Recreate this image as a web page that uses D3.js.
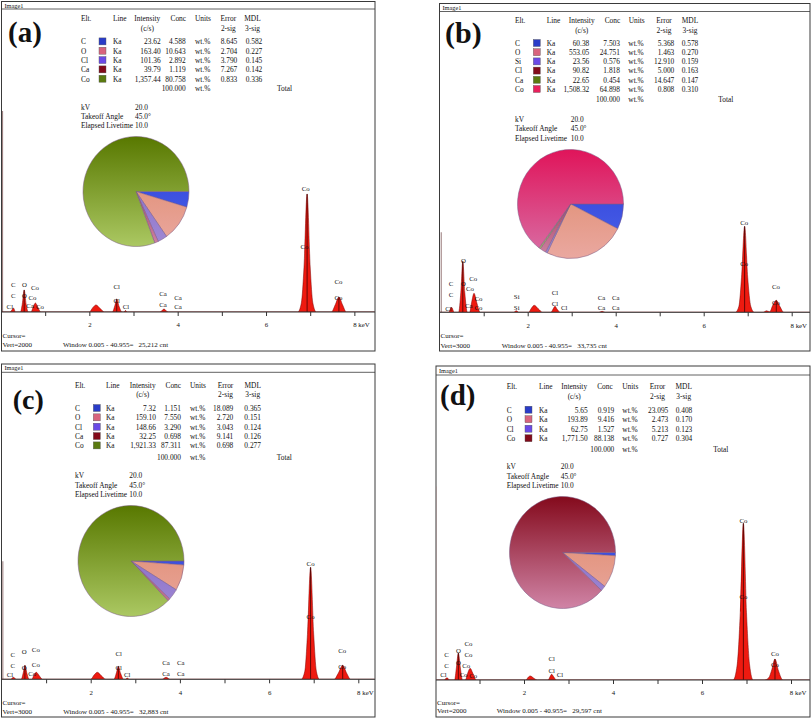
<!DOCTYPE html>
<html><head><meta charset="utf-8">
<script src="https://cdn.jsdelivr.net/npm/d3@7/dist/d3.min.js"></script>
<style>
body{margin:0;background:#fff;}
svg text{font-family:"Liberation Serif","Times New Roman",serif;fill:#111;}
</style></head><body>
<script>
// ---------------- DATA ----------------
const lineName = "Ka";
const totalConc = "100.000";
const infoLabels = ["kV", "Takeoff Angle", "Elapsed Livetime"];
const infoValues = ["20.0", "45.0\u00b0", "10.0"];
const keVTicks = [1, 2, 3, 4, 5, 6, 7, 8];
const keVTickLabels = ["", "2", "", "4", "", "6", "", "8"];
const axisUnit = "keV";
const windowText = "Window 0.005 - 40.955=";

// Panel (a)
const elementsA = ["C", "O", "Cl", "Ca", "Co"];
const intensityA = ["23.62", "163.40", "101.36", "39.79", "1,357.44"];
const concA = [4.588, 10.643, 2.892, 1.119, 80.758];
const errorA = ["8.645", "2.704", "3.790", "7.267", "0.833"];
const mdlA = ["0.582", "0.227", "0.145", "0.142", "0.336"];
const vertA = 2000;
const cntA = "25,212";
const zeroA = [0.035, 1340];
const spectrumA = [[0,0],[0.20,0],[0.25,15],[0.28,27],[0.33,0],
 [0.44,0],[0.48,50],[0.525,147],[0.57,50],[0.62,0],
 [0.68,0],[0.73,35],[0.78,60],[0.83,35],[0.90,0],
 [2.00,0],[2.08,30],[2.15,47],[2.24,25],[2.34,0],
 [2.52,0],[2.58,45],[2.62,87],[2.67,40],[2.74,0],[2.78,0],[2.82,10],[2.86,0],
 [3.60,0],[3.69,20],[3.78,0],
 [6.72,0],[6.80,60],[6.86,300],[6.93,787],[7.00,300],[7.06,60],[7.14,0],
 [7.48,0],[7.57,50],[7.65,100],[7.73,50],[7.82,0],[8.5,0]];
const labelsA = [["Cl",0.20,33],["C",0.28,180],["C",0.28,107],["O",0.53,180],["O",0.53,107],
 ["Co",0.77,160],["Co",0.71,93],["Ca",0.66,40],["Co",0.88,33],
 ["Cl",2.62,167],["Cl",2.62,73],["Cl",2.83,33],
 ["Ca",3.67,120],["Ca",3.67,47],["Ca",4.01,93],["Ca",4.01,33],
 ["Co",6.90,820],["Co",6.87,433],["Co",7.64,200],["Co",7.64,93]];
const markersA = [0.525, 2.62, 6.93, 7.65];

// Panel (b)
const elementsB = ["C", "O", "Si", "Cl", "Ca", "Co"];
const intensityB = ["60.38", "553.05", "23.56", "90.82", "22.65", "1,508.32"];
const concB = [7.503, 24.751, 0.576, 1.818, 0.454, 64.898];
const errorB = ["5.368", "1.463", "12.910", "5.000", "14.647", "0.808"];
const mdlB = ["0.578", "0.270", "0.159", "0.163", "0.147", "0.310"];
const vertB = 3000;
const cntB = "33,735";
const zeroB = [0.035, 800];
const spectrumB = [[0,0],[0.20,0],[0.27,50],[0.33,0],
 [0.43,0],[0.48,200],[0.525,510],[0.57,200],[0.63,0],
 [0.68,0],[0.73,110],[0.78,190],[0.84,100],[0.92,0],
 [1.68,0],[1.74,15],[1.80,0],
 [2.02,0],[2.09,45],[2.15,70],[2.24,35],[2.34,0],
 [2.53,0],[2.58,35],[2.62,60],[2.67,30],[2.74,0],
 [3.62,0],[3.69,10],[3.76,0],
 [6.72,0],[6.80,60],[6.86,350],[6.93,860],[7.00,350],[7.07,60],[7.15,0],
 [7.35,0],[7.43,15],[7.50,5],[7.57,70],[7.65,120],[7.73,60],[7.82,0],[8.5,0]];
const labelsB = [["Cl",0.20,40],["C",0.26,290],["C",0.26,180],["O",0.54,520],["O",0.54,290],
 ["Co",0.76,340],["Co",0.69,240],["Co",0.88,140],["Ca",0.66,65],["Co",0.88,50],
 ["Si",1.75,160],["Si",1.75,50],["Cl",2.62,200],["Cl",2.62,90],["Cl",2.83,50],
 ["Ca",3.68,150],["Ca",3.68,50],["Ca",4.00,150],["Ca",4.00,50],
 ["Co",6.92,900],["Co",6.92,490],["Co",7.64,260],["Co",7.64,100]];
const markersB = [0.525, 6.93, 7.65];

// Panel (c)
const elementsC = ["C", "O", "Cl", "Ca", "Co"];
const intensityC = ["7.32", "159.10", "148.66", "32.25", "1,921.33"];
const concC = [1.151, 7.550, 3.290, 0.698, 87.311];
const errorC = ["18.089", "2.720", "3.043", "9.141", "0.698"];
const mdlC = ["0.365", "0.151", "0.124", "0.126", "0.277"];
const vertC = 3000;
const cntC = "32,883";
const zeroC = [0.03, 1180];
const spectrumC = [[0,0],[0.20,0],[0.27,20],[0.33,0],
 [0.44,0],[0.49,70],[0.525,140],[0.57,60],[0.62,0],
 [0.68,0],[0.73,45],[0.78,70],[0.84,40],[0.92,0],
 [2.00,0],[2.08,45],[2.15,70],[2.24,35],[2.34,0],
 [2.52,0],[2.58,70],[2.62,130],[2.67,60],[2.74,0],[2.78,0],[2.82,12],[2.86,0],
 [3.60,0],[3.69,20],[3.78,0],
 [6.72,0],[6.80,80],[6.86,450],[6.93,1120],[7.00,450],[7.06,80],[7.13,0],
 [7.46,0],[7.55,60],[7.65,140],[7.74,60],[7.83,0],[8.5,0]];
const labelsC = [["Cl",0.19,50],["C",0.25,250],["C",0.25,140],["O",0.51,280],["O",0.51,120],
 ["Co",0.77,300],["Co",0.77,150],["Co",0.69,60],
 ["Cl",2.63,260],["Cl",2.63,120],["Cl",2.82,50],
 ["Ca",3.69,170],["Ca",3.69,60],["Ca",4.02,170],["Ca",4.02,60],
 ["Co",6.93,1160],["Co",6.93,630],["Co",7.64,290],["Co",7.64,130]];
const markersC = [0.525, 2.62, 6.93, 7.65];

// Panel (d)
const elementsD = ["C", "O", "Cl", "Co"];
const intensityD = ["5.65", "193.89", "62.75", "1,771.50"];
const concD = [0.919, 9.416, 1.527, 88.138];
const errorD = ["23.095", "2.473", "5.213", "0.727"];
const mdlD = ["0.408", "0.170", "0.123", "0.304"];
const vertD = 2000;
const cntD = "29,597";
const zeroD = [0.03, 1290];
const spectrumD = [[0,0],[0.20,0],[0.27,15],[0.33,0],
 [0.44,0],[0.48,80],[0.525,180],[0.57,80],[0.62,0],
 [0.68,0],[0.74,50],[0.79,78],[0.85,45],[0.93,0],
 [2.04,0],[2.10,20],[2.14,27],[2.22,12],[2.30,0],
 [2.54,0],[2.59,25],[2.62,38],[2.67,20],[2.73,0],
 [6.70,0],[6.79,100],[6.86,450],[6.93,1045],[7.00,450],[7.07,100],[7.15,0],
 [7.40,0],[7.50,15],[7.56,60],[7.64,140],[7.72,60],[7.82,0],[8.5,0]];
const labelsD = [["Cl",0.19,33],["C",0.26,167],["C",0.26,95],["O",0.525,196],["O",0.525,116],
 ["Co",0.75,240],["Co",0.75,167],["Co",0.70,95],["Co",0.64,33],["Co",0.86,29],
 ["Cl",2.62,145],["Cl",2.62,60],["Cl",2.81,33],
 ["Co",6.93,1062],["Co",6.93,555],["Co",7.64,173],["Co",7.64,100]];
const markersD = [0.525, 6.93, 7.64];

// ---------------- STYLE / LAYOUT ----------------
const swatchColors = ["#2a3cc8", "#d8647e", "#6a4ae6", "#820a1a", "#5a7a10", "#e8205c"];
const pieTop = ["#2c3cd6", "#dc8462", "#7c5cc4", "#840a1c", "#587800", "#e0145a"];
const pieBot = ["#4c64ea", "#eaa8a0", "#a08ad4", "#d084a6", "#abc862", "#d870a6"];
const colorIdxA = [0, 1, 2, 3, 4];
const colorIdxB = [0, 1, 2, 3, 4, 5];
const colorIdxC = [0, 1, 2, 3, 4];
const colorIdxD = [0, 1, 2, 3];

const layoutA = {L:1.5,T:1.5,R:375,B:351,titleLine:9,imgY:7.5,
 tag:{x:8,y:41.5,size:29},
 hdrY:21,hdr2Y:31,rowY0:44.2,rowDy:9.33,totalY:90.8,
 colElt:81,colSw:99,colLine:113,colInt:160.7,colConc:185.7,colUnits:195,colErr:237.3,colMdl:262.3,colTotal:277,
 hInt:147.3,hConc:178.3,hUnits:203,hErr:228.3,hMdl:252.5,
 infoY0:109.5,infoDy:9.3,infoVal:135,
 pie:{cx:136,cy:191.5,rx:53,ry:55},
 axisY:312,x0:1.0,pxPerKeV:44.17,cursorY:337.5,vertY:347,windowX:63};
const layoutB = {L:439.5,T:3.5,R:810,B:351,titleLine:11.5,imgY:9.5,
 tag:{x:445,y:42.5,size:30},
 hdrY:22.5,hdr2Y:32.8,rowY0:45.8,rowDy:9.2,totalY:102.3,
 colElt:515,colSw:533.3,colLine:546.7,colInt:589.3,colConc:620,colUnits:628.3,colErr:674.3,colMdl:698.3,colTotal:718.3,
 hInt:581.7,hConc:612.5,hUnits:636.7,hErr:664,hMdl:690,
 infoY0:122,infoDy:9.4,infoVal:570.7,
 pie:{cx:570.5,cy:204,rx:53,ry:54.5},
 axisY:312.3,x0:439.7,pxPerKeV:44.0,cursorY:337.5,vertY:347.5,windowX:501.7};
const layoutC = {L:1.5,T:364,R:375,B:717,titleLine:372.3,imgY:370,
 tag:{x:12.7,y:409.3,size:28},
 hdrY:387.5,hdr2Y:396.5,rowY0:410.8,rowDy:9.35,totalY:459.8,
 colElt:75,colSw:93.3,colLine:106,colInt:156,colConc:181,colUnits:190,colErr:233.3,colMdl:261,colTotal:276.7,
 hInt:142.7,hConc:173.3,hUnits:198,hErr:225.5,hMdl:252.7,
 infoY0:478.2,infoDy:9.6,infoVal:129.3,
 pie:{cx:131,cy:561,rx:53,ry:55.5},
 axisY:679.3,x0:1.5,pxPerKeV:44.6,cursorY:705.2,vertY:714.2,windowX:63.3};
const layoutD = {L:436,T:366,R:810,B:717,titleLine:375,imgY:372.5,
 tag:{x:440,y:405,size:29},
 hdrY:389.2,hdr2Y:398.5,rowY0:412.5,rowDy:9.5,totalY:451.5,
 colElt:506.7,colSw:525,colLine:539,colInt:587.7,colConc:614.3,colUnits:622.3,colErr:668.3,colMdl:692.3,colTotal:713.3,
 hInt:574.2,hConc:605,hUnits:630.3,hErr:657.5,hMdl:683.7,
 infoY0:469.2,infoDy:9.6,infoVal:560.7,
 pie:{cx:562.5,cy:552.5,rx:53,ry:56},
 axisY:680,x0:435,pxPerKeV:44.5,cursorY:705.2,vertY:713.2,windowX:496.7};

const panels = [
 {id:"a",tag:"(a)",elements:elementsA,intensity:intensityA,conc:concA,error:errorA,mdl:mdlA,colors:colorIdxA,spectrum:spectrumA,labels:labelsA,zero:zeroA,markers:markersA,vert:vertA,cnt:cntA,lay:layoutA},
 {id:"b",tag:"(b)",elements:elementsB,intensity:intensityB,conc:concB,error:errorB,mdl:mdlB,colors:colorIdxB,spectrum:spectrumB,labels:labelsB,zero:zeroB,markers:markersB,vert:vertB,cnt:cntB,lay:layoutB},
 {id:"c",tag:"(c)",elements:elementsC,intensity:intensityC,conc:concC,error:errorC,mdl:mdlC,colors:colorIdxC,spectrum:spectrumC,labels:labelsC,zero:zeroC,markers:markersC,vert:vertC,cnt:cntC,lay:layoutC},
 {id:"d",tag:"(d)",elements:elementsD,intensity:intensityD,conc:concD,error:errorD,mdl:mdlD,colors:colorIdxD,spectrum:spectrumD,labels:labelsD,zero:zeroD,markers:markersD,vert:vertD,cnt:cntD,lay:layoutD}
];

// ---------------- DRAW ----------------
const svg = d3.select("body").append("svg").attr("width", 811).attr("height", 719);
svg.append("rect").attr("width", 811).attr("height", 719).attr("fill", "#fff");
const defs = svg.append("defs");
const FS = 7.4;

panels.forEach(drawPanel);

function drawPanel(p) {
  const Ly = p.lay;
  const g = svg.append("g");
  g.append("rect").attr("x", Ly.L).attr("y", Ly.T).attr("width", Ly.R - Ly.L).attr("height", Ly.B - Ly.T)
    .attr("fill", "#fff").attr("stroke", "#3a3a3a").attr("stroke-width", 1);
  g.append("line").attr("x1", Ly.L).attr("x2", Ly.R).attr("y1", Ly.titleLine).attr("y2", Ly.titleLine)
    .attr("stroke", "#3a3a3a").attr("stroke-width", 0.8);
  g.append("text").attr("x", Ly.L + 3).attr("y", Ly.imgY).attr("font-size", 6.3).text("Image1");

  g.append("text").attr("x", Ly.tag.x).attr("y", Ly.tag.y).attr("font-size", Ly.tag.size)
    .attr("font-weight", "bold").text(p.tag);

  const t = (x, y, s, anchor) => g.append("text").attr("x", x).attr("y", y).attr("font-size", FS)
    .attr("text-anchor", anchor || "start").text(s);
  t(Ly.colElt, Ly.hdrY, "Elt.");
  t(Ly.colLine, Ly.hdrY, "Line");
  t(Ly.hInt, Ly.hdrY, "Intensity", "middle");
  t(Ly.hInt, Ly.hdr2Y, "(c/s)", "middle");
  t(Ly.hConc, Ly.hdrY, "Conc", "middle");
  t(Ly.hUnits, Ly.hdrY, "Units", "middle");
  t(Ly.hErr, Ly.hdrY, "Error", "middle");
  t(Ly.hErr, Ly.hdr2Y, "2-sig", "middle");
  t(Ly.hMdl, Ly.hdrY, "MDL", "middle");
  t(Ly.hMdl, Ly.hdr2Y, "3-sig", "middle");
  p.elements.forEach((el, i) => {
    const y = Ly.rowY0 + i * Ly.rowDy;
    t(Ly.colElt, y, el);
    g.append("rect").attr("x", Ly.colSw).attr("y", y - 6.3).attr("width", 7).attr("height", 7)
      .attr("fill", swatchColors[p.colors[i]]).attr("stroke", "#555").attr("stroke-width", 0.4);
    t(Ly.colLine, y, lineName);
    t(Ly.colInt, y, p.intensity[i], "end");
    t(Ly.colConc, y, p.conc[i].toFixed(3), "end");
    t(Ly.colUnits, y, "wt.%");
    t(Ly.colErr, y, p.error[i], "end");
    t(Ly.colMdl, y, p.mdl[i], "end");
  });
  t(Ly.colConc, Ly.totalY, totalConc, "end");
  t(Ly.colUnits, Ly.totalY, "wt.%");
  t(Ly.colTotal, Ly.totalY, "Total");
  infoLabels.forEach((s, i) => {
    t(Ly.colElt, Ly.infoY0 + i * Ly.infoDy, s);
    t(Ly.infoVal, Ly.infoY0 + i * Ly.infoDy, infoValues[i]);
  });

  // ---- spectrum ----
  const kmax = (Ly.R - Ly.x0) / Ly.pxPerKeV;
  const x = d3.scaleLinear().domain([0, kmax]).range([Ly.x0, Ly.R]);
  const y = d3.scaleLinear().domain([0, p.vert]).range([Ly.axisY, Ly.axisY - 300]);
  const clipId = "clip-" + p.id;
  defs.append("clipPath").attr("id", clipId).append("rect")
    .attr("x", Ly.L + 0.5).attr("y", Ly.titleLine).attr("width", Ly.R - Ly.L - 1).attr("height", Ly.axisY - Ly.titleLine);
  const sg = g.append("g").attr("clip-path", `url(#${clipId})`);
  sg.append("line").attr("x1", x(p.zero[0])).attr("x2", x(p.zero[0]))
    .attr("y1", y(0)).attr("y2", y(p.zero[1])).attr("stroke", "#a08484").attr("stroke-width", 1.1);
  const area = d3.area().x(d => x(d[0])).y0(y(0)).y1(d => y(d[1])).curve(d3.curveMonotoneX);
  sg.append("path").datum(p.spectrum).attr("d", area)
    .attr("fill", "#ee1a10").attr("stroke", "#7a0000").attr("stroke-width", 0.5);
  p.markers.forEach(e => {
    const pt = p.spectrum.reduce((a, b) => Math.abs(b[0] - e) < Math.abs(a[0] - e) ? b : a);
    sg.append("line").attr("x1", x(pt[0])).attr("x2", x(pt[0])).attr("y1", y(0)).attr("y2", y(pt[1]))
      .attr("stroke", "#2a0000").attr("stroke-width", 0.7);
  });

  // pie (drawn after the spectrum so it sits on top)
  const pc = Ly.pie;
  const pg = g.append("g").attr("transform", `translate(${pc.cx},${pc.cy}) scale(1,${pc.ry / pc.rx})`);
  p.colors.forEach((ci, i) => {
    const gr = defs.append("linearGradient").attr("id", `pg-${p.id}-${i}`)
      .attr("gradientUnits", "userSpaceOnUse").attr("x1", 0).attr("x2", 0).attr("y1", -pc.rx).attr("y2", pc.rx);
    gr.append("stop").attr("offset", "0%").attr("stop-color", pieTop[ci]);
    gr.append("stop").attr("offset", "100%").attr("stop-color", pieBot[ci]);
  });
  const pie = d3.pie().sort(null).value(d => d).startAngle(Math.PI / 2).endAngle(Math.PI / 2 + 2 * Math.PI);
  const arc = d3.arc().innerRadius(0).outerRadius(pc.rx);
  pg.selectAll("path").data(pie(p.conc)).join("path").attr("d", arc)
    .attr("fill", (d, i) => `url(#pg-${p.id}-${i})`)
    .attr("stroke", "#7a5a86").attr("stroke-width", 0.5);

  g.selectAll(null).data(p.labels).join("text")
    .attr("x", d => x(d[1])).attr("y", d => y(d[2])).attr("dy", "0.35em")
    .attr("text-anchor", "middle").attr("font-size", 6.8).text(d => d[0]);

  const ax = g.append("g").attr("transform", `translate(0,${Ly.axisY})`)
    .call(d3.axisBottom(x).tickValues(keVTicks).tickSize(4).tickSizeOuter(0).tickPadding(6.5)
      .tickFormat((d, i) => keVTickLabels[i]));
  ax.select(".domain").attr("stroke", "#333").attr("d", `M${Ly.L},0H${Ly.R}`);
  ax.selectAll(".tick line").attr("stroke", "#333");
  ax.selectAll("text").attr("font-family", "Liberation Serif, serif").attr("font-size", 6.8).attr("fill", "#111");
  g.append("text").attr("x", x(8) + 4).attr("y", Ly.axisY + 15.2).attr("font-size", 6.8).text(axisUnit);

  g.append("text").attr("x", Ly.L + 1).attr("y", Ly.cursorY).attr("font-size", 7).text("Cursor=");
  g.append("text").attr("x", Ly.L + 1).attr("y", Ly.vertY).attr("font-size", 7).text("Vert=" + p.vert);
  g.append("text").attr("x", Ly.windowX).attr("y", Ly.vertY).attr("font-size", 7)
    .style("white-space", "pre").text(windowText + "   " + p.cnt + " cnt");
}
</script></body></html>
